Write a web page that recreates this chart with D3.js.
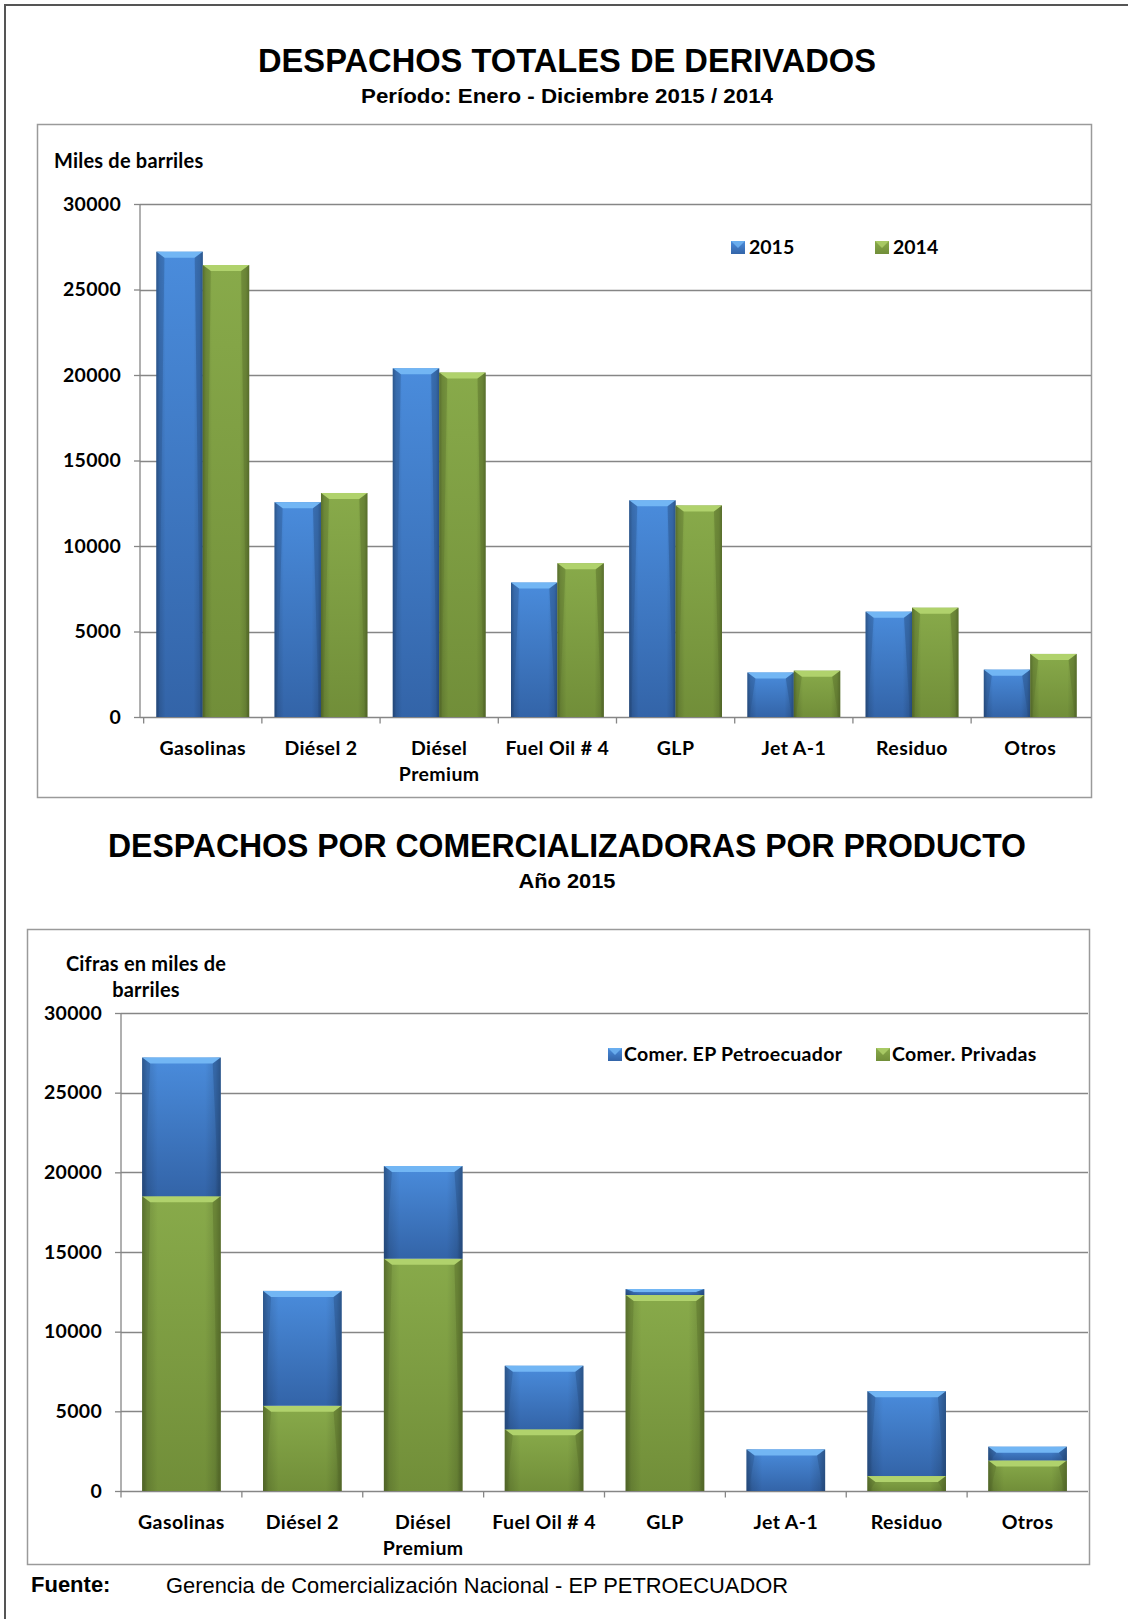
<!DOCTYPE html>
<html>
<head>
<meta charset="utf-8">
<script src="https://cdn.jsdelivr.net/npm/d3@7"></script>
<style>
  html, body { margin: 0; padding: 0; background: #fff; }
  svg { display: block; }
</style>
</head>
<body>
<svg id="chart" width="1128" height="1619"></svg>
<script>
// ---------- DATA ----------
const categories = ["Gasolinas", "Diésel 2", "Diésel Premium", "Fuel Oil # 4", "GLP", "Jet A-1", "Residuo", "Otros"];
const categoryLines = [["Gasolinas"], ["Diésel 2"], ["Diésel", "Premium"], ["Fuel Oil # 4"], ["GLP"], ["Jet A-1"], ["Residuo"], ["Otros"]];
const values2015 = [27210, 12560, 20390, 7860, 12670, 2600, 6160, 2770];
const values2014 = [26430, 13100, 20140, 8990, 12370, 2710, 6390, 3690];
const seriesYears = ["2015", "2014"];
const comerPrivadas = [18500, 5350, 14580, 3870, 12300, 0, 940, 1920];
const comerEP = [8700, 7210, 5810, 3990, 370, 2610, 5320, 860];
const stackSeries = ["Comer. Privadas", "Comer. EP Petroecuador"];
const legend2Order = ["Comer. EP Petroecuador", "Comer. Privadas"];
const yTicks = [0, 5000, 10000, 15000, 20000, 25000, 30000];

// ---------- SETUP ----------
const svg = d3.select("#chart");
const defs = svg.append("defs");
const palette = {
  blue: { top: "#4a8cdc", bottom: "#3364a8", edge: "#284f86", bevel: "#72b6f4" },
  green: { top: "#88aa4a", bottom: "#718e39", edge: "#586f2b", bevel: "#b0d26c" }
};
Object.entries(palette).forEach(([k, c]) => {
  const v = defs.append("linearGradient").attr("id", "v-" + k).attr("x1", 0).attr("y1", 0).attr("x2", 0).attr("y2", 1);
  v.append("stop").attr("offset", "0%").attr("stop-color", c.top);
  v.append("stop").attr("offset", "100%").attr("stop-color", c.bottom);
});
const h = defs.append("linearGradient").attr("id", "h-shade").attr("x1", 0).attr("y1", 0).attr("x2", 1).attr("y2", 0);
[[0, 0.35], [0.07, 0.12], [0.2, 0], [0.8, 0], [0.93, 0.12], [1, 0.35]].forEach(([o, a]) =>
  h.append("stop").attr("offset", o).attr("stop-color", "#000").attr("stop-opacity", a));

function bevelBar(g, x, y, w, hgt, color) {
  if (hgt <= 0) return;
  const c = palette[color];
  g.append("rect").attr("x", x).attr("y", y).attr("width", w).attr("height", hgt).attr("fill", `url(#v-${color})`);
  g.append("rect").attr("x", x).attr("y", y).attr("width", w).attr("height", hgt).attr("fill", "url(#h-shade)");
  const b = Math.min(6, hgt / 2), inset = Math.min(8, w / 4);
  g.append("polygon")
    .attr("points", `${x},${y} ${x + w},${y} ${x + w - inset},${y + b} ${x + inset},${y + b}`)
    .attr("fill", c.bevel);
  g.append("polygon")
    .attr("points", `${x},${y} ${x + inset},${y + b} ${x + 2},${y + hgt}  ${x},${y + hgt}`)
    .attr("fill", c.edge).attr("opacity", 0.35);
  g.append("polygon")
    .attr("points", `${x + w},${y} ${x + w - inset},${y + b} ${x + w - 2},${y + hgt} ${x + w},${y + hgt}`)
    .attr("fill", c.edge).attr("opacity", 0.45);
}

const axisColor = "#868686";
const labelFont = "Lato, 'Open Sans', sans-serif";
const titleFont = "'Liberation Sans', Arial, sans-serif";

// outer frame
svg.append("line").attr("x1", 4).attr("x2", 1128).attr("y1", 5).attr("y2", 5).attr("stroke", "#555").attr("stroke-width", 2);
svg.append("line").attr("x1", 5).attr("x2", 5).attr("y1", 4).attr("y2", 1619).attr("stroke", "#555").attr("stroke-width", 2);

function title(text, x, y, size, len) {
  svg.append("text").attr("x", x).attr("y", y).attr("text-anchor", "middle")
    .attr("font-family", titleFont).attr("font-weight", "bold").attr("font-size", size)
    .attr("textLength", len).attr("lengthAdjust", "spacingAndGlyphs").text(text);
}

// ---------- CHART 1 ----------
title("DESPACHOS TOTALES DE DERIVADOS", 567, 72, 34, 618);
title("Período: Enero - Diciembre 2015 / 2014", 567, 103, 20, 412);

svg.append("rect").attr("x", 37.5).attr("y", 124.5).attr("width", 1054).attr("height", 673)
  .attr("fill", "#fff").attr("stroke", "#9a9a9a").attr("stroke-width", 1.5);
svg.append("text").attr("x", 54).attr("y", 168).attr("font-family", labelFont).attr("font-weight", "bold")
  .attr("font-size", 20).attr("letter-spacing", 0.2).text("Miles de barriles");

function drawAxes(g, x, y, left, right, tickEnd) {
  g.append("g").selectAll("line").data(yTicks.filter(t => t > 0)).join("line")
    .attr("x1", left).attr("x2", right).attr("y1", d => Math.round(y(d)) + 0.5).attr("y2", d => Math.round(y(d)) + 0.5)
    .attr("stroke", axisColor).attr("stroke-width", 1.3);
  const ya = d3.axisLeft(y).tickValues(yTicks).tickSize(6).tickPadding(8).tickFormat(d3.format("d"));
  const yg = g.append("g").attr("transform", `translate(${left},0)`).call(ya);
  yg.select(".domain").attr("stroke", axisColor).attr("stroke-width", 1.3).attr("d", `M0,${y(30000)}V${y(0)}`);
  yg.selectAll(".tick line").attr("stroke", axisColor).attr("stroke-width", 1.3);
  yg.selectAll(".tick text").attr("font-family", labelFont).attr("font-weight", "bold").attr("font-size", 19.5)
    .attr("fill", "#000").attr("x", tickEnd - left).attr("letter-spacing", 0.3);
  // x axis
  const y0 = Math.round(y(0)) + 0.5;
  g.append("line").attr("x1", left).attr("x2", right).attr("y1", y0).attr("y2", y0).attr("stroke", axisColor).attr("stroke-width", 1.3);
  const bounds = categories.map(c => x(c) - x.step() * x.paddingInner() / 2);
  g.append("g").selectAll("line").data(bounds).join("line")
    .attr("x1", d => d).attr("x2", d => d).attr("y1", y0).attr("y2", y0 + 6)
    .attr("stroke", axisColor).attr("stroke-width", 1.3);
  const lbl = g.append("g").selectAll("text").data(categories).join("text")
    .attr("x", d => x(d) + x.bandwidth() / 2).attr("y", y0 + 37)
    .attr("text-anchor", "middle").attr("font-family", labelFont).attr("font-weight", "bold")
    .attr("font-size", 19.5).attr("letter-spacing", 0.4);
  lbl.each(function (d, i) {
    categoryLines[i].forEach((t, j) => d3.select(this).append("tspan")
      .attr("x", x(d) + x.bandwidth() / 2).attr("dy", j === 0 ? 0 : 26.5).text(t));
  });
}

const x1 = d3.scaleBand().domain(categories).range([141, 1092]).paddingInner(0.215).paddingOuter(0.13);
const x1s = d3.scaleBand().domain(seriesYears).range([0, x1.bandwidth()]);
const y1 = d3.scaleLinear().domain([0, 30000]).range([717, 204]);
const g1 = svg.append("g");
drawAxes(g1, x1, y1, 140, 1091, 121);
const bars1 = g1.append("g");
categories.forEach((c, i) => {
  [[values2015[i], "2015", "blue"], [values2014[i], "2014", "green"]].forEach(([v, s, col]) => {
    bevelBar(bars1, x1(c) + x1s(s), y1(v), x1s.bandwidth(), y1(0) - y1(v), col);
  });
});
// legend 1
const leg1 = [["2015", "blue", 731], ["2014", "green", 875]];
leg1.forEach(([t, col, lx]) => {
  svg.append("rect").attr("x", lx).attr("y", 241).attr("width", 14).attr("height", 13).attr("fill", `url(#v-${col})`);
  svg.append("polygon").attr("points", `${lx},241 ${lx + 14},241 ${lx + 7},248`).attr("fill", palette[col].bevel).attr("opacity", 0.8);
  svg.append("text").attr("x", lx + 18).attr("y", 254).attr("font-family", labelFont).attr("font-weight", "bold")
    .attr("font-size", 19.5).text(t);
});

// ---------- CHART 2 ----------
title("DESPACHOS POR COMERCIALIZADORAS POR PRODUCTO", 567, 857, 34, 918);
title("Año 2015", 567, 888, 20, 97);

svg.append("rect").attr("x", 27.5).attr("y", 929.5).attr("width", 1062).attr("height", 635)
  .attr("fill", "#fff").attr("stroke", "#9a9a9a").attr("stroke-width", 1.5);
svg.append("text").attr("x", 146).attr("y", 971).attr("text-anchor", "middle").attr("font-family", labelFont)
  .attr("font-weight", "bold").attr("font-size", 20).attr("letter-spacing", 0.2).text("Cifras en miles de");
svg.append("text").attr("x", 146).attr("y", 997).attr("text-anchor", "middle").attr("font-family", labelFont)
  .attr("font-weight", "bold").attr("font-size", 20).attr("letter-spacing", 0.2).text("barriles");

const x2 = d3.scaleBand().domain(categories).range([121, 1088]).paddingInner(0.35).paddingOuter(0.175);
const y2 = d3.scaleLinear().domain([0, 30000]).range([1491, 1013]);
const g2 = svg.append("g");
drawAxes(g2, x2, y2, 121, 1088, 102);
const stackData = categories.map((c, i) => ({ cat: c, "Comer. Privadas": comerPrivadas[i], "Comer. EP Petroecuador": comerEP[i] }));
const stacked = d3.stack().keys(stackSeries)(stackData);
const bars2 = g2.append("g");
stacked.forEach((layer, li) => {
  const col = li === 0 ? "green" : "blue";
  layer.forEach(d => {
    bevelBar(bars2, x2(d.data.cat), y2(d[1]), x2.bandwidth(), y2(d[0]) - y2(d[1]), col);
  });
});
// legend 2
const leg2 = [[legend2Order[0], "blue", 608], [legend2Order[1], "green", 876]];
leg2.forEach(([t, col, lx]) => {
  svg.append("rect").attr("x", lx).attr("y", 1048).attr("width", 14).attr("height", 13).attr("fill", `url(#v-${col})`);
  svg.append("polygon").attr("points", `${lx},1048 ${lx + 14},1048 ${lx + 7},1055`).attr("fill", palette[col].bevel).attr("opacity", 0.8);
  svg.append("text").attr("x", lx + 16).attr("y", 1061).attr("font-family", labelFont).attr("font-weight", "bold")
    .attr("font-size", 19.5).attr("letter-spacing", 0.3).text(t);
});

// ---------- SOURCE ----------
svg.append("text").attr("x", 31).attr("y", 1592).attr("font-family", titleFont).attr("font-weight", "bold")
  .attr("font-size", 22).text("Fuente:");
svg.append("text").attr("x", 166).attr("y", 1593).attr("font-family", titleFont)
  .attr("font-size", 22).attr("textLength", 622).attr("lengthAdjust", "spacingAndGlyphs")
  .text("Gerencia de Comercialización Nacional - EP PETROECUADOR");
</script>
</body>
</html>
